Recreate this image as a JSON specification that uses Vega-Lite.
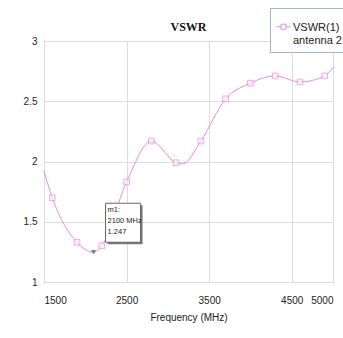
{
  "$schema": "https://vega.github.io/schema/vega-lite/v6.json",
  "width": 289,
  "height": 241,
  "autosize": {"type": "none"},
  "padding": {"left": 44, "top": 41, "right": 10, "bottom": 56},
  "background": "white",
  "title": {
    "text": "VSWR",
    "font": "Liberation Serif",
    "fontSize": 12,
    "fontWeight": "bold",
    "color": "#111",
    "anchor": "middle",
    "frame": "group",
    "offset": -26
  },
  "data": {
    "values": [
      {"freq": 1500, "vswr": 1.92, "kind": "curve"},
      {"freq": 1600, "vswr": 1.70, "kind": "sample"},
      {"freq": 1900, "vswr": 1.33, "kind": "sample"},
      {"freq": 2100, "vswr": 1.247, "kind": "m1"},
      {"freq": 2200, "vswr": 1.30, "kind": "sample"},
      {"freq": 2500, "vswr": 1.83, "kind": "sample"},
      {"freq": 2800, "vswr": 2.17, "kind": "sample"},
      {"freq": 3100, "vswr": 1.99, "kind": "sample"},
      {"freq": 3180, "vswr": 1.98, "kind": "curve"},
      {"freq": 3400, "vswr": 2.17, "kind": "sample"},
      {"freq": 3700, "vswr": 2.52, "kind": "sample"},
      {"freq": 4000, "vswr": 2.65, "kind": "sample"},
      {"freq": 4300, "vswr": 2.71, "kind": "sample"},
      {"freq": 4600, "vswr": 2.66, "kind": "sample"},
      {"freq": 4900, "vswr": 2.71, "kind": "sample"},
      {"freq": 5000, "vswr": 2.78, "kind": "curve"}
    ]
  },
  "encoding": {
    "x": {
      "field": "freq",
      "type": "quantitative",
      "scale": {"domain": [1500, 5000], "nice": false, "zero": false},
      "axis": {
        "values": [1500, 2500, 3500, 4500, 5000],
        "format": "d",
        "title": "Frequency (MHz)",
        "labelPadding": 13,
        "titlePadding": 7
      }
    },
    "y": {
      "field": "vswr",
      "type": "quantitative",
      "scale": {"domain": [1, 3], "nice": false, "zero": false},
      "axis": {
        "values": [1, 1.5, 2, 2.5, 3],
        "format": "~g",
        "title": null,
        "labelPadding": 7
      }
    }
  },
  "layer": [
    {
      "mark": {"type": "line", "interpolate": "monotone", "strokeWidth": 1},
      "encoding": {
        "color": {
          "datum": "VSWR(1)\nantenna 2100",
          "scale": {"range": ["#e38de3"]},
          "legend": {
            "title": null,
            "labelExpr": "split(datum.label, '\\n')"
          }
        }
      }
    },
    {
      "transform": [{"filter": "datum.kind === 'sample'"}],
      "mark": {
        "type": "point",
        "shape": "square",
        "size": 32,
        "filled": true,
        "fill": "#fdf2fd",
        "stroke": "#e08ae0",
        "strokeWidth": 1
      }
    },
    {
      "transform": [{"filter": "datum.kind === 'm1'"}],
      "mark": {
        "type": "point",
        "shape": "triangle-down",
        "size": 28,
        "filled": true,
        "color": "#555"
      }
    },
    {
      "transform": [{"filter": "datum.kind === 'm1'"}],
      "mark": {
        "type": "point",
        "shape": "M1.4,-4.7H4.9V-0.8H1.4Z",
        "size": 400,
        "filled": true,
        "color": "#777",
        "opacity": 1
      }
    },
    {
      "transform": [{"filter": "datum.kind === 'm1'"}],
      "mark": {
        "type": "point",
        "shape": "M1.2,-4.9H4.7V-1H1.2Z",
        "size": 400,
        "filled": true,
        "fill": "white",
        "stroke": "#666",
        "strokeWidth": 1,
        "opacity": 1
      }
    },
    {
      "transform": [
        {"filter": "datum.kind === 'm1'"},
        {"calculate": "'m1:\\n' + datum.freq + ' MHz\\n' + format(datum.vswr, '.3f')", "as": "note"}
      ],
      "mark": {
        "type": "text",
        "align": "left",
        "baseline": "top",
        "dx": 14,
        "dy": -46,
        "fontSize": 7.5,
        "lineHeight": 11,
        "lineBreak": "\n",
        "color": "#222",
        "font": "Liberation Sans"
      },
      "encoding": {"text": {"field": "note"}}
    }
  ],
  "config": {
    "view": {"stroke": "#9a9a9a", "strokeWidth": 1},
    "axis": {
      "grid": true,
      "gridColor": "#dcdcdc",
      "gridWidth": 1,
      "domain": false,
      "ticks": false,
      "tickSize": 0,
      "labelFont": "Liberation Sans",
      "labelFontSize": 10,
      "labelColor": "#222",
      "titleFont": "Liberation Sans",
      "titleFontSize": 10,
      "titleFontWeight": "normal",
      "titleColor": "#222"
    },
    "legend": {
      "orient": "none",
      "legendX": 226,
      "legendY": -33,
      "padding": 6,
      "fillColor": "white",
      "strokeColor": "#9fb5d8",
      "cornerRadius": 0,
      "symbolType": "M-1,0.75H-0.36M0.36,0.75H1M-0.36,0.39H0.36V1.11H-0.36Z",
      "symbolSize": 196,
      "symbolStrokeWidth": 1,
      "symbolFillColor": "white",
      "labelFont": "Liberation Sans",
      "labelFontSize": 11,
      "labelColor": "#222",
      "labelBaseline": "top",
      "labelLineHeight": 16,
      "labelOffset": 2,
      "labelLimit": 200
    }
  }
}
